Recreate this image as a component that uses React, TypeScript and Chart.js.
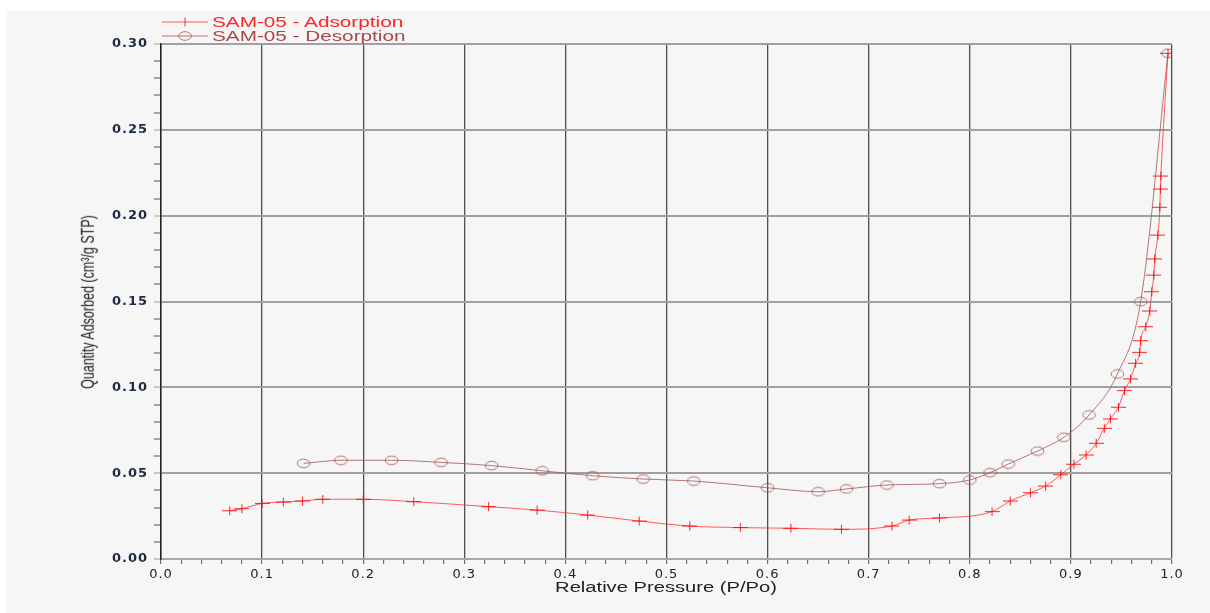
import React, { useEffect, useRef } from "react";
import { Chart, registerables } from "chart.js";

Chart.register(...registerables);

// ---- Data ----
const adsorptionX = [
  0.068, 0.080, 0.100, 0.121, 0.140, 0.160, 0.200, 0.250, 0.324, 0.372,
  0.422, 0.473, 0.523, 0.573, 0.623, 0.673, 0.723, 0.740, 0.770, 0.822,
  0.840, 0.860, 0.875, 0.890, 0.903, 0.915, 0.925, 0.933, 0.939, 0.947,
  0.953, 0.959, 0.964, 0.968, 0.969, 0.974, 0.978, 0.980, 0.982, 0.983,
  0.986, 0.988, 0.9885, 0.989, 0.996,
];
const adsorptionY = [
  0.0281, 0.0293, 0.0324, 0.0332, 0.0338, 0.0348, 0.0348, 0.0334, 0.0305, 0.0285,
  0.0256, 0.0221, 0.0192, 0.0183, 0.0179, 0.0173, 0.0192, 0.0227, 0.0239, 0.0276,
  0.0338, 0.0386, 0.0425, 0.0491, 0.0552, 0.0606, 0.0674, 0.0761, 0.0816, 0.0884,
  0.0981, 0.1049, 0.1140, 0.1204, 0.1272, 0.1353, 0.1445, 0.1557, 0.1654, 0.1748,
  0.1887, 0.2049, 0.2155, 0.2231, 0.2946,
];
const desorptionX = [
  0.141, 0.178, 0.228, 0.277, 0.327, 0.377, 0.427, 0.477, 0.527, 0.600,
  0.650, 0.678, 0.718, 0.770, 0.800, 0.820, 0.838, 0.867, 0.893, 0.918,
  0.946, 0.969, 0.996,
];
const desorptionY = [
  0.0557, 0.0575, 0.0575, 0.0563, 0.0544, 0.0514, 0.0485, 0.0466, 0.0454, 0.0415,
  0.0392, 0.0408, 0.0431, 0.0439, 0.0460, 0.0503, 0.0553, 0.0629, 0.0709, 0.0839,
  0.1078, 0.1499, 0.2946,
];
const seriesNames = ["SAM-05 - Adsorption", "SAM-05 - Desorption"];
const xTitle = "Relative Pressure (P/Po)";
const yTitle = "Quantity Adsorbed (cm³/g STP)";
const xMajorLabels = ["0.0", "0.1", "0.2", "0.3", "0.4", "0.5", "0.6", "0.7", "0.8", "0.9", "1.0"];
const yMajorLabels = ["0.00", "0.05", "0.10", "0.15", "0.20", "0.25", "0.30"];

const ADS_COLOR = "rgba(255,40,40,0.75)";
const DES_COLOR = "rgba(165,85,85,0.8)";

function makeCross(): HTMLCanvasElement {
  const c = document.createElement("canvas");
  c.width = 15;
  c.height = 11;
  const g = c.getContext("2d")!;
  g.strokeStyle = "rgba(255,0,0,0.85)";
  g.lineWidth = 1;
  g.beginPath();
  g.moveTo(0, 5.5);
  g.lineTo(15, 5.5);
  g.moveTo(7.5, 1);
  g.lineTo(7.5, 10);
  g.stroke();
  return c;
}

function makeEllipse(): HTMLCanvasElement {
  const c = document.createElement("canvas");
  c.width = 15;
  c.height = 11;
  const g = c.getContext("2d")!;
  g.strokeStyle = "rgba(170,80,80,0.8)";
  g.lineWidth = 1;
  g.beginPath();
  g.ellipse(7.5, 5.5, 6.3, 4.3, 0, 0, Math.PI * 2);
  g.stroke();
  return c;
}

export default function App() {
  const canvasRef = useRef<HTMLCanvasElement | null>(null);

  useEffect(() => {
    const canvas = canvasRef.current;
    if (!canvas) return;
    const cross = makeCross();
    const ell = makeEllipse();

    const spacingPlugin = {
      id: "spacing",
      beforeDraw(chart: any) {
        chart.ctx.letterSpacing = "1px";
      },
      afterDraw(chart: any) {
        chart.ctx.letterSpacing = "0px";
      },
    };

    const chart = new Chart(canvas, {
      type: "line",
      data: {
        datasets: [
          {
            label: seriesNames[0],
            data: adsorptionX.map((x, i) => ({ x, y: adsorptionY[i] })),
            borderColor: ADS_COLOR,
            borderWidth: 1,
            pointStyle: cross as any,
            pointRadius: 6,
            cubicInterpolationMode: "monotone",
            fill: false,
          },
          {
            label: seriesNames[1],
            data: desorptionX.map((x, i) => ({ x, y: desorptionY[i] })),
            borderColor: DES_COLOR,
            borderWidth: 1,
            pointStyle: ell as any,
            pointRadius: 6,
            cubicInterpolationMode: "monotone",
            fill: false,
          },
        ],
      },
      options: {
        responsive: false,
        animation: false,
        events: [],
        layout: { padding: { left: 0, right: 38, top: 44, bottom: 0 } },
        plugins: {
          legend: { display: false },
          tooltip: { enabled: false },
        },
        scales: {
          x: {
            type: "linear",
            min: 0,
            max: 1,
            afterFit: (s: any) => {
              s.height = 54;
            },
            ticks: {
              stepSize: 0.02,
              maxTicksLimit: 100,
              autoSkip: false,
              maxRotation: 0,
              minRotation: 0,
              padding: 3,
              color: "#222",
              font: { family: "DejaVu Sans", size: 13 },
              callback: (_v: any, i: number) => (i % 5 === 0 ? xMajorLabels[i / 5] : ""),
            },
            grid: {
              color: (c: any) => (c.index % 5 === 0 ? "#505050" : "rgba(0,0,0,0)"),
              lineWidth: 1.3,
              tickColor: "#555",
              tickLength: 5,
              tickWidth: 1,
            },
            border: { display: true, color: "#a8a8a8", width: 2 },
          },
          y: {
            type: "linear",
            min: 0,
            max: 0.3,
            afterFit: (s: any) => {
              s.width = 161;
            },
            ticks: {
              stepSize: 0.01,
              maxTicksLimit: 100,
              autoSkip: false,
              padding: 6,
              color: "#1c2a44",
              font: { family: "DejaVu Sans", size: 13, weight: "bold" },
              callback: (_v: any, i: number) => (i % 5 === 0 ? yMajorLabels[i / 5] : ""),
            },
            grid: {
              color: (c: any) => (c.index % 5 === 0 ? "#a0a0a0" : "rgba(0,0,0,0)"),
              lineWidth: 2,
              tickColor: (c: any) => (c.index % 5 === 0 ? "#a0a0a0" : "#555"),
              tickLength: 7,
              tickWidth: 1,
            },
            border: { display: true, color: "#222", width: 1.5 },
          },
        },
      },
      plugins: [spacingPlugin],
    } as any);

    return () => {
      chart.destroy();
    };
  }, []);

  const textBase: React.CSSProperties = {
    position: "absolute",
    whiteSpace: "nowrap",
    fontFamily: "'Liberation Sans', Arial, sans-serif",
    lineHeight: "1",
  };

  return (
    <div style={{ position: "fixed", left: 0, top: 0, width: 1210, height: 613, background: "#fff", overflow: "hidden" }}>
      <div style={{ position: "absolute", left: 6, top: 10, right: 0, bottom: 0, background: "#f6f6f6" }} />
      <canvas
        ref={canvasRef}
        width={1210}
        height={613}
        style={{ position: "absolute", left: 0, top: 0, width: 1210, height: 613 }}
      />
      {/* Legend */}
      <svg style={{ position: "absolute", left: 160, top: 14 }} width={50} height={30}>
        <line x1={2} y1={8} x2={48} y2={8} stroke={ADS_COLOR} strokeWidth={1} />
        <line x1={25} y1={3.5} x2={25} y2={12.5} stroke="rgba(255,0,0,0.85)" strokeWidth={1} />
        <line x1={2} y1={22} x2={48} y2={22} stroke={DES_COLOR} strokeWidth={1} />
        <ellipse cx={25} cy={22} rx={6.3} ry={4.3} fill="none" stroke="rgba(170,80,80,0.8)" strokeWidth={1} />
      </svg>
      <div
        style={{
          ...textBase,
          left: 212,
          top: 15,
          fontSize: 14,
          color: "#ff2424",
          transform: "scaleX(1.48)",
          transformOrigin: "left center",
        }}
      >
        {seriesNames[0]}
      </div>
      <div
        style={{
          ...textBase,
          left: 212,
          top: 29,
          fontSize: 14,
          color: "#a84848",
          transform: "scaleX(1.48)",
          transformOrigin: "left center",
        }}
      >
        {seriesNames[1]}
      </div>
      {/* Axis titles */}
      <div
        style={{
          ...textBase,
          left: 666,
          top: 587,
          fontSize: 14,
          color: "#222",
          transform: "translate(-50%, -50%) scaleX(1.44)",
        }}
      >
        {xTitle}
      </div>
      <div
        style={{
          ...textBase,
          left: 89,
          top: 302,
          fontSize: 12.5,
          color: "#222",
          transform: "translate(-50%, -50%) rotate(-90deg) scaleY(1.4)",
        }}
      >
        {yTitle}
      </div>
    </div>
  );
}
